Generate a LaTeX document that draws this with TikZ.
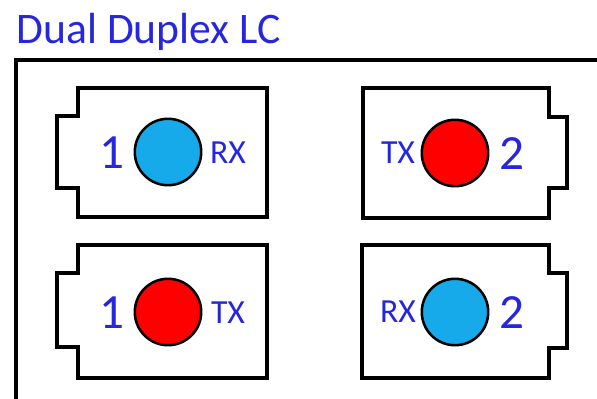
\documentclass[tikz,border=0pt]{standalone}
\usepackage{fontspec}
\setmainfont{Carlito}
\usepackage{tikz}
\usetikzlibrary{positioning}
\definecolor{lblue}{RGB}{38,38,222}
\definecolor{portblue}{RGB}{22,170,235}
\definecolor{portred}{RGB}{255,0,0}
\tikzset{
    port/.style={circle, draw=black, line width=1.8pt, minimum size=1.66cm, inner sep=0pt},
    num/.style={text=lblue, font=\fontsize{35}{35}\selectfont, inner sep=0pt},
    sig/.style={text=lblue, font=\fontsize{24}{24}\selectfont, inner sep=0pt}
}

\begin{document}
\begin{tikzpicture}[x=0.025cm, y=-0.025cm, line width=2.3pt, line join=miter]
    \useasboundingbox (0, 0) rectangle (597, 399);
    \node[anchor=base west, text=lblue, font=\fontsize{31}{31}\selectfont, inner sep=0pt] (title) at (15, 44) {Dual Duplex LC};
    \draw (16, 402) -- (16, 60) -- (600, 60);
    % left column
    \begin{scope}[shift={(168, 152)}]
        \draw (-90, -64) -- (99, -64) -- (99, 65) -- (-90, 65) -- (-90, 36) -- (-111, 36) -- (-111, -36) -- (-90, -36) -- cycle;
        \node[port, fill=portblue] (rxa) at (0, 0) {};
        \node[num] (numa) at (-56, 1) {1};
        \node[sig] (siga) at (60, 1) {RX};
    \end{scope}
    \begin{scope}[shift={(168, 312)}]
        \draw (-90, -67) -- (99, -67) -- (99, 66) -- (-90, 66) -- (-90, 35) -- (-111, 35) -- (-111, -39) -- (-90, -39) -- cycle;
        \node[port, fill=portred] (txa) at (0, 0) {};
        \node[num] (numb) at (-56, 1) {1};
        \node[sig] (sigb) at (60, 1) {TX};
    \end{scope}
    % right column
    \begin{scope}[shift={(455, 153)}]
        \draw (94, -65) -- (-92, -65) -- (-92, 65) -- (94, 65) -- (94, 35) -- (112, 35) -- (112, -36) -- (94, -36) -- cycle;
        \node[port, fill=portred] (txc) at (0, 0) {};
        \node[sig] (sigc) at (-57, 0) {TX};
        \node[num] (numc) at (57, 1) {2};
    \end{scope}
    \begin{scope}[shift={(455, 312)}]
        \draw (94, -67) -- (-93, -67) -- (-93, 66) -- (94, 66) -- (94, 36) -- (112, 36) -- (112, -39) -- (94, -39) -- cycle;
        \node[port, fill=portblue] (rxd) at (0, 0) {};
        \node[sig] (sigd) at (-57, 0) {RX};
        \node[num] (numd) at (57, 1) {2};
    \end{scope}
\end{tikzpicture}
\end{document}
